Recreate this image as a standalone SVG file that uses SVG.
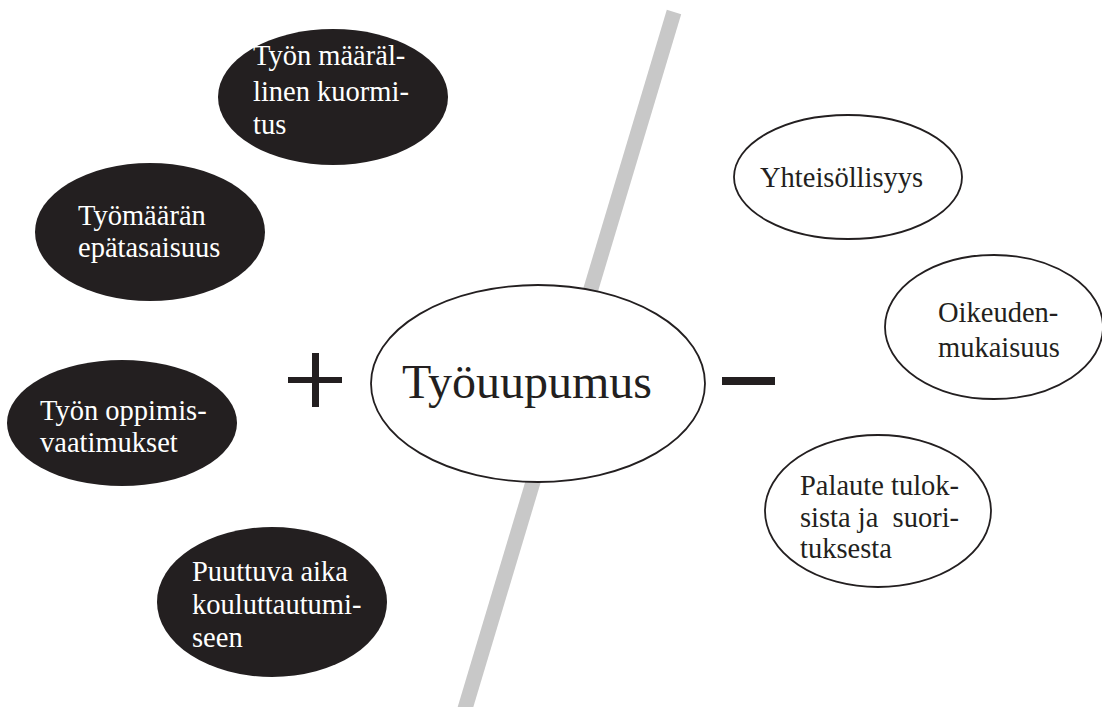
<svg xmlns="http://www.w3.org/2000/svg" width="1102" height="707" viewBox="0 0 1102 707">
<style>
.dark{fill:#231f20}
.light{fill:#fff;stroke:#231f20;stroke-width:1.8}
</style>
<rect width="1102" height="707" fill="#fff"/>
<g id="connectors">
<line x1="674" y1="12" x2="464" y2="712" stroke="#c8c8c8" stroke-width="15"/>
</g>
<g id="center">
<ellipse class="light" cx="538" cy="383.5" rx="167" ry="98.5"/>
<text x="527" y="398" text-anchor="middle" fill="#231f20" font-family="Liberation Serif, serif" font-size="48">Työuupumus</text>
</g>
<g id="plus">
<rect x="288" y="377" width="54" height="6" class="dark"/>
<rect x="312" y="353" width="7" height="54" class="dark"/>
</g>
<g id="minus">
<rect x="722" y="377" width="53" height="8" class="dark"/>
</g>
<g font-family="Liberation Serif, serif" font-size="28.5" fill="#fff">
<g id="n1">
<ellipse class="dark" cx="333" cy="97" rx="115" ry="68"/>
<text x="253" y="65">Työn määräl-</text>
<text x="253" y="101">linen kuormi-</text>
<text x="253" y="134">tus</text>
</g>
<g id="n2">
<ellipse class="dark" cx="150" cy="232" rx="115" ry="69"/>
<text x="78" y="225">Työmäärän</text>
<text x="78" y="257">epätasaisuus</text>
</g>
<g id="n3">
<ellipse class="dark" cx="122" cy="423" rx="115" ry="63"/>
<text x="40" y="420">Työn oppimis-</text>
<text x="40" y="452">vaatimukset</text>
</g>
<g id="n4">
<ellipse class="dark" cx="272" cy="602" rx="115" ry="75"/>
<text x="192" y="581">Puuttuva aika</text>
<text x="192" y="614">kouluttautumi-</text>
<text x="192" y="647">seen</text>
</g>
</g>
<g font-family="Liberation Serif, serif" font-size="28.5" fill="#231f20">
<g id="r1">
<ellipse class="light" cx="848" cy="177" rx="114" ry="62"/>
<text x="760" y="187">Yhteisöllisyys</text>
</g>
<g id="r2">
<ellipse class="light" cx="994" cy="327" rx="109" ry="72"/>
<text x="938" y="322">Oikeuden-</text>
<text x="938" y="357">mukaisuus</text>
</g>
<g id="r3">
<ellipse class="light" cx="878" cy="511" rx="113" ry="76"/>
<text x="800" y="495">Palaute tulok-</text>
<text x="800" y="527" xml:space="preserve">sista ja  suori-</text>
<text x="800" y="558">tuksesta</text>
</g>
</g>
</svg>
